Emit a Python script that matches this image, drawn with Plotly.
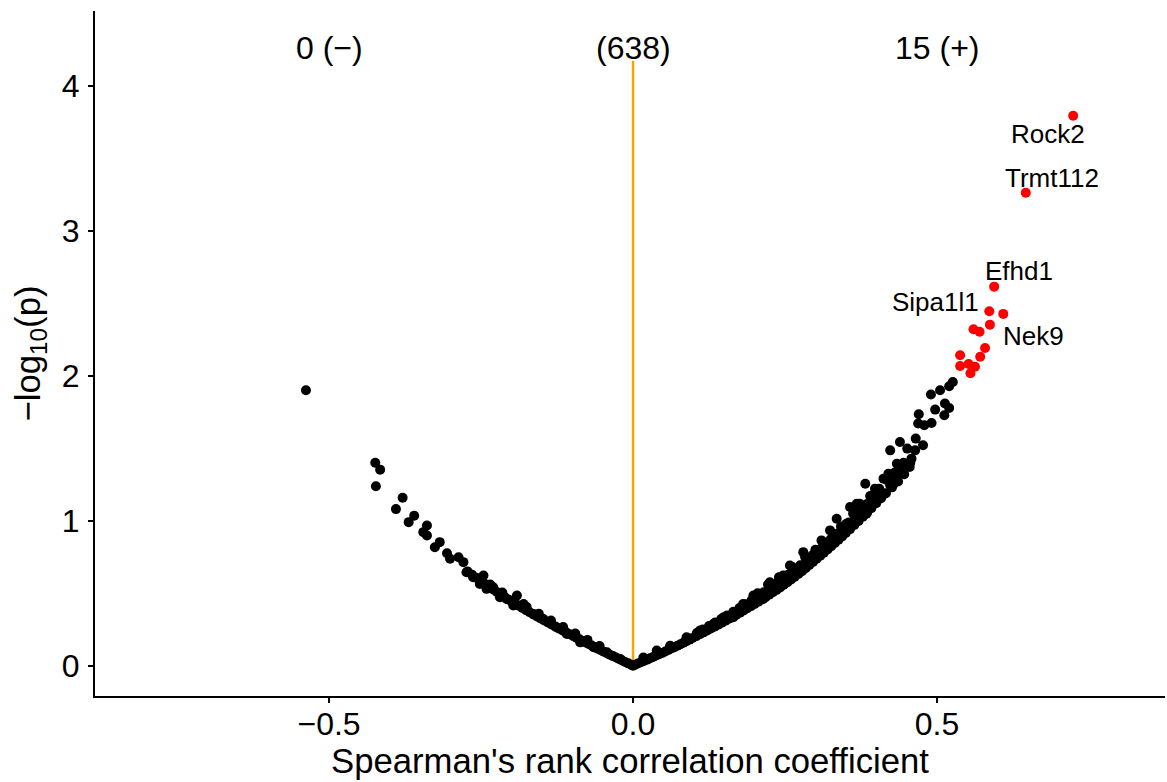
import plotly.graph_objects as go

# ---------------- data ----------------
# Non-significant genes (black)
black_x = [
    # right branch, lower edge
    0.003, 0.008, 0.013, 0.018, 0.023, 0.028, 0.033, 0.038, 0.043, 0.048,
    0.053, 0.058, 0.063, 0.068, 0.073, 0.078, 0.083, 0.088, 0.093, 0.098,
    0.104, 0.110, 0.116, 0.122, 0.128, 0.134, 0.140, 0.146, 0.152, 0.158,
    0.164, 0.170, 0.176, 0.182, 0.188, 0.194, 0.200, 0.206, 0.212, 0.218,
    0.224, 0.230, 0.236, 0.242, 0.248, 0.254, 0.260, 0.266, 0.272, 0.278,
    0.284, 0.290, 0.296, 0.302, 0.308, 0.314, 0.320, 0.326, 0.332, 0.338,
    0.344, 0.350, 0.357, 0.364, 0.371, 0.378, 0.385, 0.392, 0.400, 0.408,
    0.416, 0.426, 0.436, 0.446, 0.455,
    # right branch, upper part of the band
    0.105, 0.115, 0.125, 0.135, 0.145, 0.155, 0.165, 0.175, 0.185, 0.195,
    0.205, 0.215, 0.225, 0.235, 0.245, 0.255, 0.265, 0.275, 0.285, 0.295,
    0.305, 0.315, 0.325, 0.335, 0.345, 0.355, 0.365, 0.375, 0.385, 0.395,
    0.205, 0.222, 0.240, 0.262, 0.283, 0.300, 0.312, 0.330, 0.342, 0.362,
    0.378, 0.390, 0.405, 0.418, 0.430, 0.445,
    # right branch, points standing out
    0.017, 0.039, 0.061, 0.088, 0.110, 0.132, 0.149, 0.165, 0.181, 0.198,
    0.214, 0.225, 0.236, 0.247, 0.258, 0.269, 0.280, 0.291, 0.310, 0.318,
    0.324, 0.335, 0.351, 0.357, 0.373, 0.384,
    # right branch, sparse upper end
    0.526, 0.520, 0.505, 0.490, 0.513, 0.520, 0.497, 0.512, 0.470, 0.491,
    0.479, 0.469, 0.465, 0.477, 0.439, 0.451, 0.423, 0.464, 0.458, 0.434,
    0.442, 0.420, 0.412, 0.382, 0.423, 0.398, 0.414, 0.393, 0.368, 0.382,
    0.371, 0.456, 0.444, 0.432, 0.428, 0.403,
    # left branch, lower edge
    -0.003, -0.008, -0.013, -0.018, -0.023, -0.028, -0.033, -0.038, -0.043, -0.048,
    -0.053, -0.058, -0.063, -0.068, -0.073, -0.078, -0.083, -0.088, -0.093, -0.098,
    -0.104, -0.110, -0.116, -0.122, -0.128, -0.134, -0.140, -0.146, -0.152, -0.158,
    -0.164, -0.170, -0.176, -0.182, -0.188, -0.194, -0.200, -0.206, -0.212, -0.218,
    -0.224, -0.230, -0.237, -0.244, -0.251, -0.258, -0.265, -0.272,
    # left branch, upper part of the band
    -0.055, -0.075, -0.095, -0.115, -0.135, -0.155, -0.175, -0.195, -0.215, -0.235,
    # left branch, sparse points
    -0.538, -0.424, -0.416, -0.423, -0.379, -0.390, -0.360, -0.369, -0.339, -0.345,
    -0.339, -0.318, -0.326, -0.306, -0.301, -0.287, -0.279, -0.274, -0.263, -0.246,
    -0.252, -0.241, -0.230, -0.219, -0.208, -0.191, -0.197, -0.180, -0.164, -0.148,
    -0.126, -0.109, -0.087, -0.065, -0.043, -0.021, 0.000,
]
black_y = [
    # right branch, lower edge
    0.006, 0.015, 0.024, 0.033, 0.042, 0.051, 0.060, 0.070, 0.079, 0.088,
    0.098, 0.108, 0.118, 0.128, 0.138, 0.148, 0.158, 0.169, 0.180, 0.191,
    0.204, 0.217, 0.230, 0.243, 0.256, 0.269, 0.283, 0.296, 0.310, 0.324,
    0.338, 0.352, 0.366, 0.381, 0.396, 0.411, 0.425, 0.441, 0.457, 0.473,
    0.490, 0.506, 0.523, 0.540, 0.558, 0.576, 0.595, 0.614, 0.633, 0.652,
    0.672, 0.694, 0.715, 0.737, 0.758, 0.780, 0.802, 0.824, 0.846, 0.869,
    0.892, 0.915, 0.942, 0.970, 0.998, 1.027, 1.056, 1.086, 1.120, 1.155,
    1.190, 1.230, 1.270, 1.320, 1.370,
    # right branch, upper part of the band
    0.226, 0.250, 0.274, 0.298, 0.322, 0.347, 0.372, 0.398, 0.424, 0.451,
    0.478, 0.506, 0.535, 0.565, 0.596, 0.627, 0.660, 0.693, 0.727, 0.762,
    0.798, 0.835, 0.872, 0.910, 0.948, 0.988, 1.030, 1.072, 1.115, 1.160,
    0.500, 0.560, 0.610, 0.680, 0.750, 0.800, 0.850, 0.900, 0.960, 1.050,
    1.100, 1.170, 1.220, 1.280, 1.330, 1.400,
    # right branch, points standing out
    0.057, 0.104, 0.138, 0.196, 0.242, 0.288, 0.334, 0.334, 0.426, 0.484,
    0.460, 0.575, 0.541, 0.622, 0.691, 0.656, 0.783, 0.737, 0.864, 0.806,
    0.933, 1.013, 0.979, 1.094, 1.117, 1.048,
    # right branch, sparse upper end
    1.957, 1.927, 1.900, 1.870, 1.808, 1.777, 1.766, 1.727, 1.734, 1.674,
    1.658, 1.670, 1.566, 1.520, 1.543, 1.497, 1.485, 1.485, 1.428, 1.393,
    1.347, 1.324, 1.290, 1.255, 1.244, 1.221, 1.186, 1.152, 1.117, 1.059,
    1.083, 1.400, 1.330, 1.290, 1.250, 1.180,
    # left branch, lower edge
    0.006, 0.016, 0.026, 0.036, 0.046, 0.056, 0.066, 0.076, 0.086, 0.096,
    0.106, 0.117, 0.128, 0.139, 0.150, 0.160, 0.171, 0.182, 0.193, 0.204,
    0.217, 0.230, 0.243, 0.256, 0.270, 0.284, 0.298, 0.312, 0.326, 0.340,
    0.354, 0.368, 0.383, 0.398, 0.413, 0.428, 0.443, 0.459, 0.475, 0.491,
    0.508, 0.525, 0.545, 0.565, 0.586, 0.607, 0.628, 0.650,
    # left branch, upper part of the band
    0.135, 0.178, 0.222, 0.266, 0.311, 0.358, 0.405, 0.455, 0.505, 0.560,
    # left branch, sparse points
    1.900, 1.400, 1.352, 1.237, 1.158, 1.080, 1.034, 0.990, 0.967, 0.921,
    0.898, 0.852, 0.817, 0.776, 0.737, 0.748, 0.714, 0.645, 0.610, 0.622,
    0.564, 0.530, 0.541, 0.472, 0.460, 0.484, 0.415, 0.426, 0.357, 0.323,
    0.265, 0.219, 0.161, 0.127, 0.092, 0.046, 0.000,
]

# Significant genes (red)
red_x = [0.724, 0.646, 0.594, 0.586, 0.609, 0.587, 0.560, 0.570, 0.579, 0.571,
         0.538, 0.538, 0.552, 0.5625, 0.555]
red_y = [3.793, 3.262, 2.614, 2.444, 2.426, 2.352, 2.320, 2.303, 2.191, 2.131,
         2.141, 2.067, 2.081, 2.062, 2.017]
red_names = ["Rock2", "Trmt112", "Efhd1", "Sipa1l1", "Nek9", "", "", "", "", "",
             "", "", "", "", ""]

# Counts shown above the plot
count_labels = ["0 (\u2212)", "(638)", "15 (+)"]
count_x = [-0.5, 0.0, 0.5]

x_tickvals = [-0.5, 0.0, 0.5]
x_ticktext = ["\u22120.5", "0.0", "0.5"]
y_tickvals = [0, 1, 2, 3, 4]

# ---------------- figure ----------------
FONT = "Liberation Sans, Arial, Helvetica, sans-serif"
y_max = max(red_y + black_y)

fig = go.Figure()

# orange segment at rho = 0
fig.add_shape(type="line", xref="x", yref="y", x0=0, x1=0, y0=0, y1=y_max * 1.1,
              line=dict(color="#FFA500", width=2.5), layer="below")

fig.add_trace(go.Scatter(x=black_x, y=black_y, mode="markers",
                         marker=dict(color="black", size=10, line=dict(width=0)),
                         showlegend=False, hoverinfo="x+y"))
fig.add_trace(go.Scatter(x=red_x, y=red_y, mode="markers",
                         marker=dict(color="#FF0000", size=10, line=dict(width=0)),
                         text=red_names, showlegend=False, hoverinfo="text+x+y"))

# gene labels (offset from their points, in pixels)
label_shift = {
    "Rock2": (-25, -18),
    "Trmt112": (26, 15),
    "Efhd1": (25, 16),
    "Sipa1l1": (-54, 9),
    "Nek9": (30, -22),
}
for gx, gy, name in zip(red_x, red_y, red_names):
    if name:
        dx, dy = label_shift[name]
        fig.add_annotation(x=gx, y=gy, text=name, showarrow=False,
                           xshift=dx, yshift=dy, xanchor="center", yanchor="middle",
                           font=dict(family=FONT, size=26, color="black"))

for cx, txt in zip(count_x, count_labels):
    fig.add_annotation(x=cx, y=y_max * 1.123, text=txt, showarrow=False,
                       xanchor="center", yanchor="middle",
                       font=dict(family=FONT, size=32, color="black"))

axis_common = dict(showline=True, linecolor="black", linewidth=2, mirror=False,
                   ticks="outside", ticklen=5, tickwidth=2, tickcolor="black",
                   showgrid=False, zeroline=False,
                   tickfont=dict(family=FONT, size=32, color="black"))

fig.update_layout(
    width=1167, height=782,
    margin=dict(l=95, r=2, t=11, b=86),
    paper_bgcolor="white", plot_bgcolor="white",
    font=dict(family=FONT, color="black"),
    xaxis=dict(range=[-0.885, 0.875], tickvals=x_tickvals, ticktext=x_ticktext,
               ticklabelstandoff=-6,
               title=dict(text="Spearman's rank correlation coefficient",
                          font=dict(family=FONT, size=34.7, color="black"), standoff=7),
               **axis_common),
    yaxis=dict(range=[-0.209, 4.515], tickvals=y_tickvals,
               ticklabelstandoff=2,
               title=dict(text="\u2212log<sub>10</sub>(p)",
                          font=dict(family=FONT, size=34.7, color="black"), standoff=11),
               **axis_common),
)

fig.write_html("out.html")
